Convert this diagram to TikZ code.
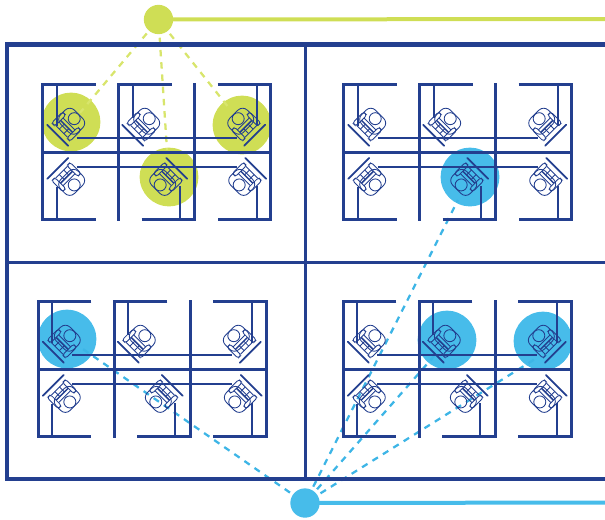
\documentclass[tikz,border=0pt]{standalone}
\definecolor{navy}{HTML}{233F8F}
\definecolor{lime}{HTML}{CFDE55}
\definecolor{limedash}{HTML}{D8E56C}
\definecolor{sky}{HTML}{47BCEA}
\definecolor{skydash}{HTML}{3DB5E6}
\tikzset{
  x=0.75pt,y=-0.75pt,
  wall/.style={navy,line width=2.25pt},
  frame/.style={navy,line width=3.1pt},
  part/.style={navy,line width=2.5pt},
  desk/.style={navy,line width=1.4pt},
  glyph/.style={navy,line width=0.65pt},
  hub/.style={circle,inner sep=0pt,minimum size=22pt},
  spot/.style={circle,inner sep=0pt,minimum size=44pt},
  link/.style={line width=1.7pt,dash pattern=on 4.8pt off 4.4pt,shorten <=2.5pt},
  chair/.pic={
    \begin{scope}[x=0.75pt,y=0.75pt]
      \draw[glyph,line width=1.3pt,line cap=round] (-14.8,-17) -- (14.8,-17);
      \draw[glyph,rounded corners=5pt] (-12.5,-7) rectangle (12.5,12.6);
      \draw[glyph] (0,6.4) circle (6);
      \draw[glyph,rounded corners=1.8pt] (-13,-12.5) rectangle (-8.5,3);
      \draw[glyph,rounded corners=1.8pt] (8.5,-12.5) rectangle (13,3);
      \draw[glyph] (-8.5,-11.5) -- (8.5,-11.5);
      \draw[glyph,line width=1.1pt] (-8.5,-4.5) -- (8.5,-4.5);
      \draw[glyph] (-8.5,-1) -- (8.5,-1);
      \draw[glyph] (-3.2,-11.5) -- (-3.2,-4.5) (3.2,-11.5) -- (3.2,-4.5);
    \end{scope}
  },
  bay/.pic={
    \draw[part,line cap=butt] (53,0) -- (0,0) -- (0,135) -- (53,135);
    \draw[part] (76,-1.5) -- (76,136);
    \draw[part] (129,0) -- (76,0);
    \draw[part] (99,135) -- (152,135);
    \draw[part] (152,-1.5) -- (152,136);
    \draw[part] (175,0) -- (228,0) -- (228,135) -- (175,135);
    \draw[part] (0,67.5) -- (228,67.5);
    \draw[desk] (14,0) -- (14,41) (90,0) -- (90,33) (214,0) -- (214,41);
    \draw[desk] (34,53) -- (194,53) (34,82) -- (194,82);
    \draw[desk] (14,135) -- (14,102) (137,135) -- (137,101) (214,135) -- (214,101);
    \pic[rotate=-45] at (27,38.5) {chair};
    \pic[rotate=-45] at (102,38.5) {chair};
    \pic[rotate=45] at (200,38.5) {chair};
    \pic[rotate=-135] at (27,95.7) {chair};
    \pic[rotate=135] at (122,95.7) {chair};
    \pic[rotate=135] at (201,95.7) {chair};
  }
}
\begin{document}
\begin{tikzpicture}
\useasboundingbox (0,0) rectangle (605,519);
% occupied desks
\node[spot,fill=lime] (g1) at (71,122) {};
\node[spot,fill=lime] (g2) at (169,177) {};
\node[spot,fill=lime] (g3) at (242,125) {};
\node[spot,fill=sky] (b1) at (470,177) {};
\node[spot,fill=sky] (b2) at (67,339) {};
\node[spot,fill=sky] (b3) at (447,340) {};
\node[spot,fill=sky] (b4) at (543,341) {};
% hubs
\node[hub,fill=lime] (hg) at (158.5,19.5) {};
\node[hub,fill=sky] (hb) at (305,503) {};
\coordinate (eg) at (605,19);
\coordinate (eb) at (605,502.5);
\draw[lime,line width=3pt] (hg.center) -- (eg);
\draw[sky,line width=3pt] (hb.center) -- (eb);
% links
\coordinate (tg1) at (80,112.7);
\coordinate (tg2) at (167,150);
\coordinate (tg3) at (229,108);
\coordinate (tb1) at (458,200);
\coordinate (tb2) at (80,347);
\coordinate (tb3) at (442,347);
\coordinate (tb4) at (535,359);
\draw[link,limedash] (hg) -- (tg1);
\draw[link,limedash] (hg) -- (tg2);
\draw[link,limedash] (hg) -- (tg3);
\draw[link,skydash] (hb) -- (tb1);
\draw[link,skydash] (hb) -- (tb2);
\draw[link,skydash] (hb) -- (tb3);
\draw[link,skydash] (hb) -- (tb4);
% building
\draw[frame] (605,44.5) -- (7,44.5) -- (7,479) -- (605,479);
\draw[wall] (305,44) -- (305,479);
\draw[wall] (7,262) -- (605,262);
% bays
\pic at (42.7,84.7) {bay};
\pic at (343.7,84.7) {bay};
\pic at (38.3,301.7) {bay};
\pic at (343.3,301.7) {bay};
\end{tikzpicture}
\end{document}
